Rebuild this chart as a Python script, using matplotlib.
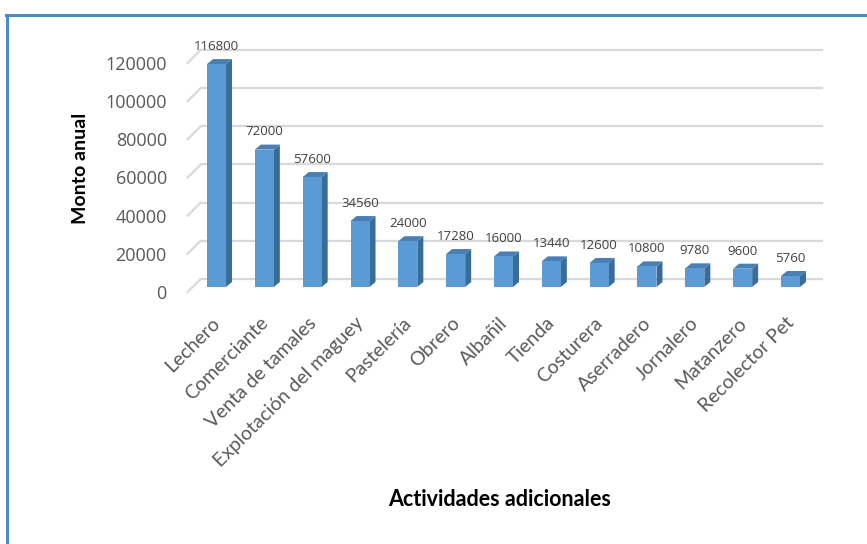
import matplotlib
matplotlib.use('Agg')
import matplotlib.pyplot as plt
from matplotlib.patches import Polygon
from matplotlib.lines import Line2D

actividades = ['Lechero', 'Comerciante', 'Venta de tamales', 'Explotación del maguey',
               'Pastelería', 'Obrero', 'Albañil', 'Tienda', 'Costurera', 'Aserradero',
               'Jornalero', 'Matanzero', 'Recolector Pet']
monto = [116800, 72000, 57600, 34560, 24000, 17280, 16000, 13440, 12600, 10800,
         9780, 9600, 5760]
y_ticks = [0, 20000, 40000, 60000, 80000, 100000, 120000]

W, H = 867, 544
fig = plt.figure(figsize=(W / 100, H / 100), dpi=100)
# front plane of the 3d box (pixels)
left, right, bottom, top = 187.6, 809.4, 292, 63
ax = fig.add_axes([left / W, 1 - bottom / H, (right - left) / W, (bottom - top) / H])
ax.set_xlim(-0.5, len(monto) - 0.5)
ax.set_ylim(0, 120000)
for s in ax.spines.values():
    s.set_visible(False)

# pixel -> data unit conversions for the fake depth
px_x = (len(monto)) / (right - left)
px_y = 120000 / (bottom - top)
wall_dx, wall_dy = 13 * px_x, 13 * px_y
bar_dx1, bar_dy1 = 5 * px_x, 5 * px_y
bar_dx2, bar_dy2 = 11 * px_x, 10 * px_y
bw = 19 * px_x

grid_c = '#d9d9d9'
x0, x1 = -0.5, len(monto) - 0.5
for t in y_ticks:
    ax.plot([x0 + wall_dx, x1 + wall_dx], [t + wall_dy, t + wall_dy], color=grid_c, lw=1.6,
            clip_on=False, zorder=1)
    ax.plot([x0, x0 + wall_dx], [t, t + wall_dy], color=grid_c, lw=1.6, clip_on=False, zorder=1)

front_c, side_c, top_c = '#5b9bd5', '#3d6b98', '#4a7fb3'
for i, v in enumerate(monto):
    xl = i - 9.5 * px_x + bar_dx1
    xr = xl + bw
    yb = bar_dy1
    yt = v + bar_dy1
    ddx, ddy = bar_dx2 - bar_dx1, bar_dy2 - bar_dy1
    side = Polygon([(xr, yb), (xr + ddx, yb + ddy), (xr + ddx, yt + ddy), (xr, yt)],
                   closed=True, fc=side_c, ec='none', clip_on=False, zorder=3)
    topf = Polygon([(xl, yt), (xl + ddx, yt + ddy), (xr + ddx, yt + ddy), (xr, yt)],
                   closed=True, fc=top_c, ec='none', clip_on=False, zorder=3)
    front = Polygon([(xl, yb), (xr, yb), (xr, yt), (xl, yt)],
                    closed=True, fc=front_c, ec='none', clip_on=False, zorder=4)
    ax.add_patch(side)
    ax.add_patch(topf)
    ax.add_patch(front)
    ax.annotate(str(v), xy=((xl + xr) / 2, yt), xytext=(0, 8), textcoords='offset points',
                ha='center', va='bottom', fontsize=9.5, color='#404040',
                family='Open Sans', annotation_clip=False)

ax.set_yticks(y_ticks)
ax.set_yticklabels([str(t) for t in y_ticks], family='Open Sans', fontsize=13, color='#595959')
ax.tick_params(axis='y', length=0, pad=15)
ax.set_xticks(range(len(monto)))
ax.set_xticklabels(actividades, rotation=45, ha='right', rotation_mode='anchor',
                   family='Lato', fontsize=14, color='#595959')
ax.tick_params(axis='x', length=0, pad=16)

fig.text(80 / W, 1 - 168 / H, 'Monto anual', rotation=90, ha='center', va='center',
         fontsize=14, fontweight='bold', family='Lato')
fig.text(500 / W, 1 - 500 / H, 'Actividades adicionales', ha='center', va='center',
         fontsize=15.5, fontweight='bold', family='Lato')

# chart border
fig.add_artist(Line2D([6 / W, 1], [1 - 15 / H, 1 - 15 / H], color='#4a8cc6', lw=2.2))
fig.add_artist(Line2D([7 / W, 7 / W], [0, 1 - 15 / H], color='#4a8cc6', lw=2.2))

fig.savefig('out.png', dpi=100)
